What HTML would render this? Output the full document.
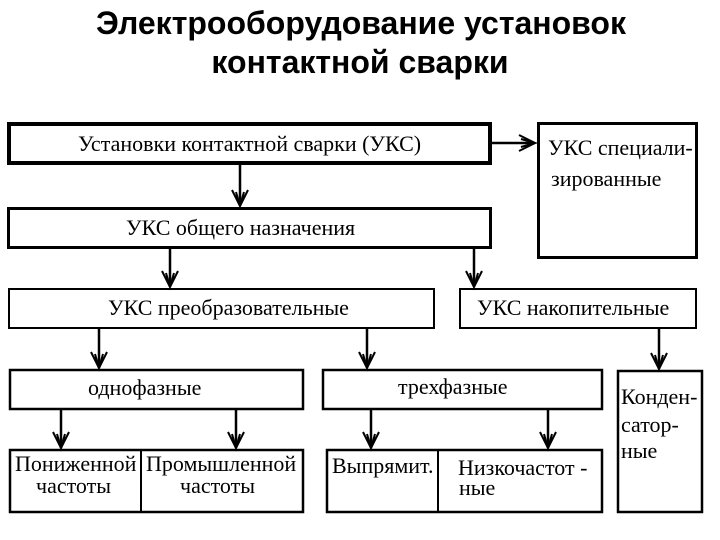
<!DOCTYPE html>
<html><head><meta charset="utf-8"><style>
html,body{margin:0;padding:0;background:#fff;}
svg{display:block;}
text{font-family:"Liberation Serif",serif;font-size:22px;fill:#000;}
.t{font-family:"Liberation Sans",sans-serif;font-weight:bold;font-size:32px;}
</style></head><body>
<svg width="720" height="540" viewBox="0 0 720 540" xmlns="http://www.w3.org/2000/svg">
<defs>
<g id="ah"><path d="M-8,-16 L0,0 L8,-16 M-4,-14 L0,0 L4,-14" fill="none" stroke="#000" stroke-width="2"/></g>
</defs>
<text class="t" x="361" y="34" text-anchor="middle">Электрооборудование установок</text>
<text class="t" x="360" y="73" text-anchor="middle">контактной сварки</text>
<g fill="none" stroke="#000">
<rect x="9" y="124" width="481" height="39" stroke-width="4"/>
<rect x="538.5" y="123.5" width="158" height="134" stroke-width="3"/>
<rect x="8.5" y="208.5" width="482" height="39" stroke-width="3"/>
<rect x="9" y="289" width="425" height="39" stroke-width="2"/>
<rect x="460" y="289" width="236" height="39" stroke-width="2"/>
<rect x="10" y="370" width="293" height="39" stroke-width="2.5"/>
<rect x="323" y="370" width="279" height="39" stroke-width="2.5"/>
<rect x="618" y="371" width="84" height="141" stroke-width="2.5"/>
<rect x="10" y="450" width="293" height="62" stroke-width="2.5"/>
<line x1="141" y1="450" x2="141" y2="512" stroke-width="2"/>
<rect x="327" y="450" width="275" height="62" stroke-width="2.5"/>
<line x1="438" y1="450" x2="438" y2="512" stroke-width="2"/>
<g stroke-width="2.5">
<line x1="240" y1="165" x2="240" y2="206"/>
<line x1="170" y1="249" x2="170" y2="287"/>
<line x1="474" y1="249" x2="474" y2="287"/>
<line x1="99" y1="329" x2="99" y2="368"/>
<line x1="367" y1="329" x2="367" y2="368"/>
<line x1="659" y1="329" x2="659" y2="369"/>
<line x1="61" y1="410" x2="61" y2="448"/>
<line x1="236" y1="410" x2="236" y2="448"/>
<line x1="371" y1="410" x2="371" y2="448"/>
<line x1="548" y1="410" x2="548" y2="448"/>
<line x1="492" y1="143" x2="535" y2="143"/>
</g>
</g>
<use href="#ah" x="240" y="206"/>
<use href="#ah" x="170" y="287"/>
<use href="#ah" x="474" y="287"/>
<use href="#ah" x="99" y="368"/>
<use href="#ah" x="367" y="368"/>
<use href="#ah" x="659" y="369"/>
<use href="#ah" x="61" y="448"/>
<use href="#ah" x="236" y="448"/>
<use href="#ah" x="371" y="448"/>
<use href="#ah" x="548" y="448"/>
<use href="#ah" transform="translate(535,143) rotate(-90)"/>
<text x="78" y="151">Установки контактной сварки (УКС)</text>
<text x="548" y="155">УКС специали-</text>
<text x="551" y="186">зированные</text>
<text x="126" y="235">УКС общего назначения</text>
<text x="108" y="315">УКС преобразовательные</text>
<text x="477" y="315">УКС накопительные</text>
<text x="88" y="395">однофазные</text>
<text x="398" y="394">трехфазные</text>
<text x="621" y="404">Конден-</text>
<text x="621" y="432">сатор-</text>
<text x="621" y="458">ные</text>
<text x="15" y="471">Пониженной</text>
<text x="36" y="493">частоты</text>
<text x="146" y="471">Промышленной</text>
<text x="180" y="493">частоты</text>
<text x="332" y="473">Выпрямит.</text>
<text x="458" y="475">Низкочастот -</text>
<text x="459" y="495">ные</text>
</svg>
</body></html>
